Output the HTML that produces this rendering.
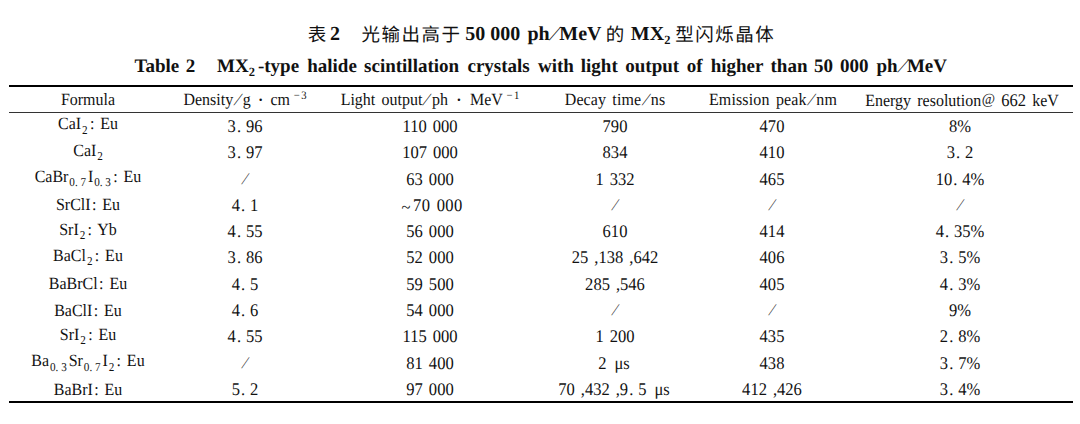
<!DOCTYPE html>
<html><head><meta charset="utf-8">
<style>

html,body{margin:0;padding:0;background:#fff;}
body{width:1080px;height:424px;position:relative;overflow:hidden;color:#111;text-rendering:geometricPrecision;
font-family:"Liberation Serif","Noto Serif CJK SC",serif;}
.t{position:absolute;white-space:nowrap;font-weight:bold;font-size:19px;line-height:24px;}
.zh{font-family:"Noto Sans CJK SC",sans-serif;font-weight:400;font-size:18.5px;letter-spacing:1.5px;position:relative;top:0.6px}
.t1{font-size:20px;top:21.6px!important}
.ts{display:inline-block;transform:skewX(-28deg);font-weight:normal;margin:0 2px}
.rule{position:absolute;left:9px;width:1064px;background:#000;}
.c{position:absolute;width:300px;height:26px;line-height:26px;text-align:center;white-space:nowrap;}
sub{font-size:12px;vertical-align:-4.5px;line-height:0;margin-left:1px;margin-right:2px;word-spacing:0}
sup{font-size:11.5px;vertical-align:6px;line-height:0;margin-left:4px}
.sg{margin-left:1.5px}
.t sub{font-size:12.5px;vertical-align:-4px;margin:0}
.t2 sub{margin-right:3px}
.sl{display:inline-block;transform:skewX(-22deg);font-size:16.5px;color:#333;position:relative;top:-1px}
.hs{display:inline-block;transform:skewX(-25deg);margin:0 3px 0 2.5px;}
.co{margin-left:1.5px}
sub+.co{margin-left:0.5px}
.w{transform:scaleX(0.93)}
.h{word-spacing:2.4px}
.f{word-spacing:2px}
.n{transform:scaleX(0.93);word-spacing:2px}

.mu{margin-left:2px}
.hd{font-size:17.8px}
.at{font-size:15.5px;position:relative;top:-2.5px;margin-left:0.5px}
.dp{margin-left:1.2px;margin-right:-1.2px}
.tl{position:relative;top:2.5px;margin-right:2.5px}
.dt{margin:0 1.5px;font-size:22px;line-height:0;position:relative;top:1.5px}

</style></head><body>
<div class="t t1" style="left:307.7px"><span class="zh">表</span></div>
<div class="t t1" style="left:330.0px">2</div>
<div class="t t1" style="left:361.5px"><span class="zh">光输出高于</span></div>
<div class="t t1" style="left:465.3px">50 000</div>
<div class="t t1" style="left:527.5px">ph<span class="ts">/</span>MeV</div>
<div class="t t1" style="left:605.7px"><span class="zh">的</span></div>
<div class="t t1" style="left:630.8px">MX<sub>2</sub></div>
<div class="t t1" style="left:675.2px"><span class="zh">型闪烁晶体</span></div>
<div class="t t2" style="left:134.5px;top:55px">Table</div>
<div class="t t2" style="left:185.8px;top:55px">2</div>
<div class="t t2" style="left:217.0px;top:55px">MX<sub>2</sub>-type</div>
<div class="t t2" style="left:307.2px;top:55px">halide</div>
<div class="t t2" style="left:364.1px;top:55px">scintillation</div>
<div class="t t2" style="left:467.5px;top:55px">crystals</div>
<div class="t t2" style="left:538.0px;top:55px">with</div>
<div class="t t2" style="left:580.8px;top:55px">light</div>
<div class="t t2" style="left:625.3px;top:55px">output</div>
<div class="t t2" style="left:686.7px;top:55px">of</div>
<div class="t t2" style="left:710.7px;top:55px">higher</div>
<div class="t t2" style="left:770.5px;top:55px">than</div>
<div class="t t2" style="left:813.9px;top:55px">50</div>
<div class="t t2" style="left:839.9px;top:55px">000</div>
<div class="t t2" style="left:876.5px;top:55px">ph<span class="ts">/</span>MeV</div>
<div class="rule" style="top:85px;height:2px"></div>
<div class="rule" style="top:112px;height:1px;background:#333"></div>
<div class="rule" style="top:401px;height:2px"></div>
<span class="c w h c0" style="left:-61.80px;top:87.09px;font-size:17.2px">Formula</span>
<span class="c w h c1" style="left:94.90px;top:87.09px;font-size:17.2px;word-spacing:1.2px">Density<span class="hs">/</span>g <span class="dt">·</span> cm<sup>−<span class="sg">3</span></sup></span>
<span class="c w h c2" style="left:279.80px;top:87.09px;font-size:17.2px">Light output<span class="hs">/</span>ph <span class="dt">·</span> MeV<sup>−<span class="sg">1</span></sup></span>
<span class="c w h c3" style="left:465.00px;top:87.09px;font-size:17.2px;letter-spacing:0.1px">Decay time<span class="hs">/</span>ns</span>
<span class="c w h c4" style="left:622.50px;top:87.09px;font-size:17.2px;letter-spacing:0.15px">Emission peak<span class="hs">/</span>nm</span>
<span class="c w h c5" style="left:811.60px;top:87.09px;font-size:17.2px">Energy resolution<span class="at">@</span> <span class="hd">662</span> keV</span>
<span class="c w f c0" style="left:-61.80px;top:111.39px;font-size:17.2px">CaI<sub>2</sub><span class="co">:</span> Eu</span>
<span class="c n c1" style="left:95.30px;top:112.99px;font-size:17.8px">3<span class="dp">.</span> 96</span>
<span class="c n c2" style="left:279.80px;top:112.99px;font-size:17.8px">110 000</span>
<span class="c n c3" style="left:465.00px;top:112.99px;font-size:17.8px">790</span>
<span class="c n c4" style="left:622.00px;top:112.99px;font-size:17.8px">470</span>
<span class="c n c5" style="left:810.00px;top:112.99px;font-size:17.8px">8%</span>
<span class="c w f c0" style="left:-60.60px;top:137.69px;font-size:17.2px">CaI<sub>2</sub></span>
<span class="c n c1" style="left:95.30px;top:139.29px;font-size:17.8px">3<span class="dp">.</span> 97</span>
<span class="c n c2" style="left:279.80px;top:139.29px;font-size:17.8px">107 000</span>
<span class="c n c3" style="left:465.00px;top:139.29px;font-size:17.8px">834</span>
<span class="c n c4" style="left:622.00px;top:139.29px;font-size:17.8px">410</span>
<span class="c n c5" style="left:810.00px;top:139.29px;font-size:17.8px">3<span class="dp">.</span> 2</span>
<span class="c w f c0" style="left:-61.80px;top:163.99px;font-size:17.2px">CaBr<sub>0. 7</sub>I<sub>0. 3</sub><span class="co">:</span> Eu</span>
<span class="c n c1" style="left:95.30px;top:165.59px;font-size:17.8px"><span class="sl">/</span></span>
<span class="c n c2" style="left:279.80px;top:165.59px;font-size:17.8px">63 000</span>
<span class="c n c3" style="left:465.00px;top:165.59px;font-size:17.8px">1 332</span>
<span class="c n c4" style="left:622.00px;top:165.59px;font-size:17.8px">465</span>
<span class="c n c5" style="left:810.00px;top:165.59px;font-size:17.8px">10<span class="dp">.</span> 4%</span>
<span class="c w f c0" style="left:-61.80px;top:192.40px;font-size:17.2px">SrClI<span class="co">:</span> Eu</span>
<span class="c n c1" style="left:95.30px;top:191.89px;font-size:17.8px">4<span class="dp">.</span> 1</span>
<span class="c n c2" style="left:282.10px;top:191.89px;font-size:17.8px;letter-spacing:0.4px"><span class="tl">~</span>70 000</span>
<span class="c n c3" style="left:465.00px;top:191.89px;font-size:17.8px"><span class="sl">/</span></span>
<span class="c n c4" style="left:622.00px;top:191.89px;font-size:17.8px"><span class="sl">/</span></span>
<span class="c n c5" style="left:810.00px;top:191.89px;font-size:17.8px"><span class="sl">/</span></span>
<span class="c w f c0" style="left:-61.80px;top:216.59px;font-size:17.2px">SrI<sub>2</sub><span class="co">:</span> Yb</span>
<span class="c n c1" style="left:95.30px;top:218.19px;font-size:17.8px">4<span class="dp">.</span> 55</span>
<span class="c n c2" style="left:279.80px;top:218.19px;font-size:17.8px">56 000</span>
<span class="c n c3" style="left:465.00px;top:218.19px;font-size:17.8px">610</span>
<span class="c n c4" style="left:622.00px;top:218.19px;font-size:17.8px">414</span>
<span class="c n c5" style="left:810.00px;top:218.19px;font-size:17.8px">4<span class="dp">.</span> 35%</span>
<span class="c w f c0" style="left:-61.80px;top:242.89px;font-size:17.2px">BaCl<sub>2</sub><span class="co">:</span> Eu</span>
<span class="c n c1" style="left:95.30px;top:244.49px;font-size:17.8px">3<span class="dp">.</span> 86</span>
<span class="c n c2" style="left:279.80px;top:244.49px;font-size:17.8px">52 000</span>
<span class="c n c3" style="left:465.00px;top:244.49px;font-size:17.8px">25 ,138 ,642</span>
<span class="c n c4" style="left:622.00px;top:244.49px;font-size:17.8px">406</span>
<span class="c n c5" style="left:810.00px;top:244.49px;font-size:17.8px">3<span class="dp">.</span> 5%</span>
<span class="c w f c0" style="left:-61.80px;top:271.30px;font-size:17.2px">BaBrCl<span class="co">:</span> Eu</span>
<span class="c n c1" style="left:95.30px;top:270.79px;font-size:17.8px">4<span class="dp">.</span> 5</span>
<span class="c n c2" style="left:279.80px;top:270.79px;font-size:17.8px">59 500</span>
<span class="c n c3" style="left:465.00px;top:270.79px;font-size:17.8px">285 ,546</span>
<span class="c n c4" style="left:622.00px;top:270.79px;font-size:17.8px">405</span>
<span class="c n c5" style="left:810.00px;top:270.79px;font-size:17.8px">4<span class="dp">.</span> 3%</span>
<span class="c w f c0" style="left:-61.80px;top:297.60px;font-size:17.2px">BaClI<span class="co">:</span> Eu</span>
<span class="c n c1" style="left:95.30px;top:297.09px;font-size:17.8px">4<span class="dp">.</span> 6</span>
<span class="c n c2" style="left:279.80px;top:297.09px;font-size:17.8px">54 000</span>
<span class="c n c3" style="left:465.00px;top:297.09px;font-size:17.8px"><span class="sl">/</span></span>
<span class="c n c4" style="left:622.00px;top:297.09px;font-size:17.8px"><span class="sl">/</span></span>
<span class="c n c5" style="left:810.00px;top:297.09px;font-size:17.8px">9%</span>
<span class="c w f c0" style="left:-61.80px;top:321.79px;font-size:17.2px">SrI<sub>2</sub><span class="co">:</span> Eu</span>
<span class="c n c1" style="left:95.30px;top:323.39px;font-size:17.8px">4<span class="dp">.</span> 55</span>
<span class="c n c2" style="left:279.80px;top:323.39px;font-size:17.8px">115 000</span>
<span class="c n c3" style="left:465.00px;top:323.39px;font-size:17.8px">1 200</span>
<span class="c n c4" style="left:622.00px;top:323.39px;font-size:17.8px">435</span>
<span class="c n c5" style="left:810.00px;top:323.39px;font-size:17.8px">2<span class="dp">.</span> 8%</span>
<span class="c w f c0" style="left:-61.80px;top:348.10px;font-size:17.2px">Ba<sub>0. 3</sub>Sr<sub>0. 7</sub>I<sub>2</sub><span class="co">:</span> Eu</span>
<span class="c n c1" style="left:95.30px;top:349.69px;font-size:17.8px"><span class="sl">/</span></span>
<span class="c n c2" style="left:279.80px;top:349.69px;font-size:17.8px">81 400</span>
<span class="c n c3" style="left:464.00px;top:349.69px;font-size:17.8px">2 <span class="mu">μ</span>s</span>
<span class="c n c4" style="left:622.00px;top:349.69px;font-size:17.8px">438</span>
<span class="c n c5" style="left:810.00px;top:349.69px;font-size:17.8px">3<span class="dp">.</span> 7%</span>
<span class="c w f c0" style="left:-61.80px;top:376.50px;font-size:17.2px">BaBrI<span class="co">:</span> Eu</span>
<span class="c n c1" style="left:95.30px;top:375.99px;font-size:17.8px">5<span class="dp">.</span> 2</span>
<span class="c n c2" style="left:279.80px;top:375.99px;font-size:17.8px">97 000</span>
<span class="c n c3" style="left:464.00px;top:375.99px;font-size:17.8px">70 ,432 ,9<span class="dp">.</span> 5 <span class="mu">μ</span>s</span>
<span class="c n c4" style="left:622.00px;top:375.99px;font-size:17.8px">412 ,426</span>
<span class="c n c5" style="left:810.00px;top:375.99px;font-size:17.8px">3<span class="dp">.</span> 4%</span>
</body></html>
